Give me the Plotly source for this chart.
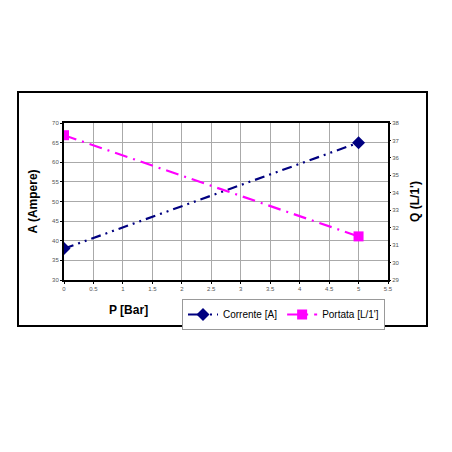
import plotly.graph_objects as go

pressure = [0, 5]
corrente = [38, 65]
portata = [37.3, 31.5]

x_ticks = [0, 0.5, 1, 1.5, 2, 2.5, 3, 3.5, 4, 4.5, 5, 5.5]
y1_ticks = [30, 35, 40, 45, 50, 55, 60, 65, 70]
y2_ticks = [29, 30, 31, 32, 33, 34, 35, 36, 37, 38]

fig = go.Figure()
fig.add_trace(go.Scatter(
    x=pressure, y=corrente, name="Corrente [A]", mode="lines+markers",
    line=dict(color="#000080", width=2.2, dash="10px,5px,2px,5px,2px,5px"),
    marker=dict(symbol="diamond", size=10, color="#000080"),
    yaxis="y"))
fig.add_trace(go.Scatter(
    x=pressure, y=portata, name="Portata [L/1']", mode="lines+markers",
    line=dict(color="#FF00FF", width=2.2, dash="13px,6px,2px,6px"),
    marker=dict(symbol="square", size=10, color="#FF00FF"),
    yaxis="y2"))

tickfont = dict(family="Liberation Sans, Arial", size=6, color="#555555")
fig.update_layout(
    width=452, height=452,
    margin=dict(l=56, r=72, t=115, b=180, autoexpand=False),
    paper_bgcolor="white", plot_bgcolor="white",
    font=dict(family="Liberation Sans, Arial"),
    xaxis=dict(range=[0, 5.5], tickvals=x_ticks, ticktext=[str(v) for v in x_ticks],
               showgrid=True, gridcolor="#aaaaaa", gridwidth=1, zeroline=False,
               showline=True, linecolor="black", linewidth=2, mirror=True, automargin=False,
               ticks="outside", ticklen=2, tickcolor="black", tickfont=tickfont),
    yaxis=dict(range=[30, 70], tickvals=y1_ticks, showgrid=True, gridcolor="#aaaaaa",
               gridwidth=1, zeroline=False, showline=True, linecolor="black", linewidth=2,
               mirror=True, ticks="outside", ticklen=2, tickcolor="black", tickfont=tickfont,
               automargin=False,
               title=dict(text="<b>A (Ampere)</b>", font=dict(size=12, color="black"), standoff=12)),
    yaxis2=dict(range=[29, 38], tickvals=y2_ticks, overlaying="y", side="right",
                showgrid=False, zeroline=False, ticks="outside", ticklen=2, tickcolor="black",
                tickfont=tickfont, automargin=False,
                title=dict(text="<b>Q (L/1')</b>", font=dict(size=12, color="black"), standoff=12)),
    legend=dict(orientation="h", x=(182 - 64) / 324, y=(280 - 299) / 157, xanchor="left", yanchor="top",
                bordercolor="#999999", borderwidth=1, font=dict(size=10, color="black"),
                itemwidth=30, tracegroupgap=0),
    showlegend=True,
    annotations=[dict(text="<b>P [Bar]</b>", x=(128 - 64) / 324, y=(280 - 310) / 157,
                      xref="paper", yref="paper", showarrow=False,
                      xanchor="center", yanchor="middle",
                      font=dict(size=12, color="black"))],
    shapes=[dict(type="rect", xref="paper", yref="paper",
                 x0=(18 - 64) / 324, x1=(427 - 64) / 324,
                 y0=(280 - 326) / 157, y1=(280 - 92) / 157,
                 line=dict(color="black", width=2), layer="below")],
)

fig.write_html("out.html")
